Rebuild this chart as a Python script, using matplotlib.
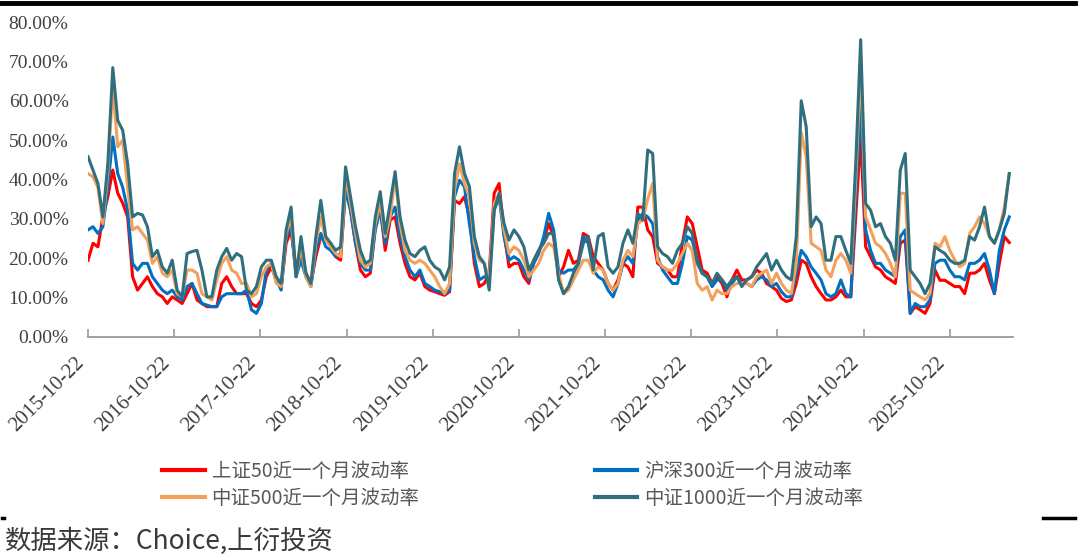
import numpy as np
import pandas as pd
import matplotlib
matplotlib.use("Agg")
import matplotlib.pyplot as plt
import matplotlib.dates as mdates
from matplotlib.lines import Line2D
from matplotlib.ticker import FuncFormatter

# ~3-week samples, values in %
START = "2015-10-22"
STEP_DAYS = 21

sz50 = [
    19.5, 23.8, 22.9, 30.5, 35.6, 42.4, 36.5, 34.0, 30.5, 15.3,
    11.9, 13.6, 15.3, 12.8, 11.0, 10.2, 8.5, 10.2, 9.4, 8.5,
    11.0, 13.6, 9.4, 8.5, 7.7, 7.7, 7.7, 13.6, 15.3, 12.8,
    11.0, 11.0, 11.0, 8.5, 7.7, 9.4, 15.3, 17.8, 14.5, 12.8,
    23.8, 27.2, 17.0, 20.4, 16.2, 13.6, 20.4, 25.5, 24.6, 23.8,
    20.4, 19.5, 38.2, 32.2, 23.8, 17.0, 15.3, 16.2, 28.0, 33.0,
    22.0, 29.7, 30.5, 23.8, 18.7, 15.3, 14.5, 16.2, 12.8, 11.9,
    11.5, 11.0, 10.6, 11.5, 34.7, 33.9, 35.6, 30.5, 18.7, 12.8,
    13.6, 16.2, 36.5, 39.0, 26.3, 17.8, 18.7, 18.7, 15.3, 13.6,
    19.5, 22.0, 24.6, 28.8, 25.5, 15.3, 17.8, 22.0, 18.7, 19.5,
    26.3, 25.5, 20.4, 18.7, 17.0, 13.6, 11.9, 14.5, 18.7, 17.8,
    15.3, 33.0, 33.0, 27.2, 25.5, 18.7, 17.8, 17.0, 15.3, 15.3,
    23.8, 30.5, 28.8, 22.9, 17.0, 16.2, 13.6, 15.3, 13.6, 10.2,
    14.5, 17.0, 14.5, 14.5, 15.3, 17.0, 16.2, 13.6, 12.8, 11.9,
    9.8, 9.0, 9.4, 13.6, 19.5, 18.7, 15.3, 12.8, 11.0, 9.4,
    9.4, 10.2, 11.9, 10.2, 10.2, 30.5, 51.0, 22.9, 20.4, 17.8,
    17.0, 15.3, 14.5, 13.6, 23.8, 24.6, 6.0, 7.7, 6.9, 6.0,
    8.5, 17.0, 14.4, 14.4, 13.6, 12.8, 12.8, 11.0, 16.2, 16.2,
    17.0, 18.7, 14.5, 11.0, 18.7, 25.5, 24.0,
]

hs300 = [
    27.2, 28.0, 26.3, 28.0, 38.0, 50.8, 41.5, 38.0, 32.2, 18.7,
    17.0, 18.7, 18.7, 15.3, 13.6, 11.9, 11.0, 11.9, 10.2, 9.4,
    12.8, 13.6, 11.0, 8.5, 8.1, 7.7, 7.7, 10.2, 11.0, 11.0,
    11.0, 11.0, 11.9, 6.9, 6.0, 8.5, 17.0, 18.7, 14.5, 11.9,
    25.5, 28.0, 15.3, 19.5, 15.3, 12.8, 22.0, 26.3, 22.9, 22.0,
    20.4, 21.2, 37.3, 32.2, 23.8, 18.7, 17.0, 17.0, 27.2, 32.2,
    23.8, 30.5, 33.0, 25.5, 20.4, 17.0, 15.3, 17.0, 13.6, 12.8,
    11.9, 11.5, 11.0, 11.9, 35.6, 39.8, 38.2, 28.8, 20.4, 14.5,
    15.3, 15.3, 32.2, 35.6, 25.5, 19.5, 20.4, 19.5, 17.0, 14.5,
    18.7, 21.2, 25.5, 31.4, 27.2, 17.0, 16.2, 17.0, 17.0, 18.7,
    25.5, 23.8, 17.0, 15.3, 14.5, 11.9, 10.2, 13.6, 18.7, 20.4,
    18.7, 29.7, 31.4, 30.5, 28.8, 20.4, 17.0, 15.3, 13.6, 13.6,
    18.7, 25.5, 24.6, 19.5, 16.2, 15.3, 12.8, 14.5, 14.5, 11.9,
    13.6, 15.3, 13.6, 13.6, 12.8, 14.5, 15.3, 14.5, 12.8, 13.6,
    11.5, 10.2, 10.2, 16.2, 22.0, 20.4, 17.8, 16.2, 14.5, 11.0,
    10.2, 11.0, 14.5, 11.0, 10.2, 35.6, 59.5, 27.2, 22.0, 18.7,
    18.7, 17.0, 16.2, 15.3, 25.5, 27.2, 6.0, 8.5, 7.7, 7.7,
    9.4, 18.7, 19.5, 19.5, 17.0, 15.3, 15.3, 14.5, 18.7, 18.7,
    19.5, 21.2, 17.0, 11.0, 22.0, 27.2, 30.5,
]

zz500 = [
    41.5, 40.7, 38.0, 28.8, 42.0, 63.5, 48.3, 50.0, 38.0, 27.2,
    28.0, 26.3, 24.6, 18.7, 20.4, 16.2, 15.3, 17.0, 11.0, 10.2,
    17.0, 17.0, 16.2, 11.0, 10.2, 9.4, 14.5, 18.7, 20.4, 17.0,
    16.2, 13.6, 13.6, 10.2, 11.0, 15.3, 17.8, 18.7, 13.6, 12.8,
    26.3, 30.5, 15.3, 22.9, 15.3, 12.8, 23.8, 30.5, 24.6, 22.9,
    21.2, 20.4, 40.7, 33.9, 26.3, 19.5, 17.8, 18.7, 28.8, 33.9,
    25.5, 30.5, 40.7, 28.8, 22.0, 19.5, 18.7, 19.5, 18.7, 17.0,
    15.3, 12.8, 11.0, 13.6, 37.3, 44.0, 39.0, 35.6, 23.8, 19.5,
    18.7, 14.5, 33.9, 36.5, 27.2, 21.2, 22.9, 22.0, 19.5, 15.3,
    17.0, 18.7, 22.0, 23.8, 22.9, 16.2, 11.0, 11.9, 14.5, 17.0,
    19.5, 19.5, 16.2, 17.8, 17.0, 13.6, 11.9, 13.6, 19.5, 22.0,
    20.4, 28.8, 29.7, 35.0, 39.0, 19.5, 17.8, 17.0, 17.0, 18.7,
    21.2, 23.8, 22.0, 13.6, 11.9, 12.8, 9.4, 11.9, 11.0, 11.0,
    12.8, 13.6, 13.6, 13.6, 12.8, 15.3, 16.2, 17.0, 13.6, 16.2,
    13.6, 11.9, 11.0, 18.7, 52.0, 45.8, 23.8, 22.9, 22.0, 17.0,
    15.3, 19.5, 21.2, 19.5, 16.2, 39.8, 69.5, 30.5, 27.2, 23.8,
    22.9, 21.2, 18.7, 15.3, 36.5, 36.5, 11.9, 11.0, 10.2, 9.4,
    11.0, 23.8, 22.9, 25.5, 22.0, 19.5, 17.8, 18.7, 26.3, 28.0,
    30.5, 28.8, 25.5, 23.8, 27.2, 33.0, 41.5,
]

zz1000 = [
    45.8, 42.4, 39.0, 30.5, 44.0, 68.4, 55.0, 52.5, 44.0, 30.5,
    31.4, 31.0, 28.0, 20.4, 22.0, 17.8, 16.2, 19.5, 11.9, 10.2,
    21.2, 21.7, 22.0, 17.0, 10.2, 10.2, 17.0, 20.4, 22.5, 19.5,
    21.2, 20.4, 11.9, 11.0, 12.8, 17.8, 19.5, 19.5, 15.3, 13.6,
    27.2, 33.0, 15.3, 25.5, 16.2, 13.6, 25.5, 34.7, 25.5, 23.8,
    22.0, 22.9, 43.2, 35.6, 28.0, 22.0, 18.7, 19.5, 30.5, 36.9,
    26.3, 33.9, 42.0, 30.5, 24.6, 21.2, 20.4, 22.0, 22.9, 19.5,
    17.8, 17.0, 14.5, 17.8, 41.5, 48.3, 41.5, 38.2, 25.5, 20.4,
    18.7, 11.9, 32.2, 36.5, 28.8, 24.6, 27.2, 25.5, 22.9, 17.0,
    19.5, 22.0, 23.8, 26.3, 26.3, 14.5, 11.0, 12.8, 16.2, 18.7,
    23.8, 25.5, 17.0, 25.5, 26.3, 17.8, 16.2, 17.8, 23.8, 27.2,
    23.8, 31.4, 29.7, 47.5, 46.6, 22.9, 21.2, 20.4, 18.7, 22.0,
    23.8, 28.0, 26.3, 18.7, 16.2, 15.3, 13.6, 16.2, 14.5, 12.8,
    14.5, 15.3, 12.8, 14.5, 15.3, 17.8, 19.5, 21.2, 17.0, 19.5,
    17.0, 15.3, 14.5, 25.5, 60.0, 53.4, 28.0, 30.5, 28.8, 19.5,
    19.5, 25.5, 25.5, 22.0, 18.7, 44.0, 75.5, 33.9, 32.2, 28.0,
    28.8, 25.5, 23.8, 19.5, 42.4, 46.6, 17.0, 15.3, 13.6, 11.0,
    13.6, 22.9, 22.0, 21.2, 19.5, 18.7, 18.7, 19.5, 25.5, 24.6,
    28.0, 33.0, 25.5, 23.8, 27.2, 31.4, 41.5,
]

labels = ["上证50近一个月波动率", "沪深300近一个月波动率",
          "中证500近一个月波动率", "中证1000近一个月波动率"]
colors = ["#FF0000", "#0070C0", "#F2A05A", "#2F6F7E"]

dates = pd.date_range(START, periods=len(sz50), freq=f"{STEP_DAYS}D")
tick_dates = pd.date_range(START, periods=11, freq=pd.DateOffset(years=1))

CJK = ["Noto Sans CJK SC", "DejaVu Sans"]
SERIF = "Liberation Serif"

fig = plt.figure(figsize=(10.8, 5.57), dpi=100)
ax = fig.add_axes([0.0815, 0.395, 0.8565, 0.5655])

lines = []
for vals, lab, col in zip([sz50, hs300, zz500, zz1000], labels, colors):
    ln, = ax.plot(dates, vals, color=col, lw=2.2, label=lab, solid_joinstyle="round")
    lines.append(ln)

ax.set_ylim(0, 80)
ax.set_yticks(np.arange(0, 81, 10))
ax.yaxis.set_major_formatter(FuncFormatter(lambda v, p: f"{v:.2f}%"))
ax.set_xlim(pd.Timestamp(START), pd.Timestamp("2026-07-18"))
ax.set_xticks(tick_dates)
ax.xaxis.set_major_formatter(mdates.DateFormatter("%Y-%m-%d"))

for side in ["top", "right", "left"]:
    ax.spines[side].set_visible(False)
ax.spines["bottom"].set_color("#9a9a9a")
ax.spines["bottom"].set_linewidth(1.3)

ax.tick_params(axis="y", length=0, pad=14, labelsize=14, labelcolor="#404040")
ax.tick_params(axis="x", direction="in", length=6, width=1.2, color="#9a9a9a",
               pad=12, labelsize=15, labelcolor="#404040")
for t in ax.get_yticklabels() + ax.get_xticklabels():
    t.set_fontfamily(SERIF)
for t in ax.get_xticklabels():
    t.set_rotation(45)
    t.set_ha("right")
    t.set_va("top")

# two rows: 50 / 300 on top, 500 / 1000 below (ncol fills column-wise)
order = [0, 2, 1, 3]
leg = fig.legend(handles=[lines[i] for i in order], loc="upper left",
                 bbox_to_anchor=(0.150, 0.172),
                 ncol=2, frameon=False, prop={"family": CJK, "size": 14},
                 handlelength=2.2, handletextpad=0.35, columnspacing=9.0,
                 labelspacing=0.30, borderpad=0, borderaxespad=0)
for t in leg.get_texts():
    t.set_color("#595959")
for h in leg.legend_handles:
    h.set_linewidth(3)

fig.text(0.005, 0.014, "数据来源：Choice,上衍投资", family=CJK, fontsize=19,
         color="#3a3a3a", ha="left", va="baseline")

# decorative rules from the report layout
fig.add_artist(Line2D([0.0, 0.995], [0.994, 0.994], color="black", lw=3.5))
fig.add_artist(Line2D([0.966, 0.995], [0.07, 0.07], color="black", lw=2.5))
fig.add_artist(Line2D([0.002, 0.004], [0.07, 0.07], color="black", lw=2.5))

fig.savefig("out.png", dpi=100)
